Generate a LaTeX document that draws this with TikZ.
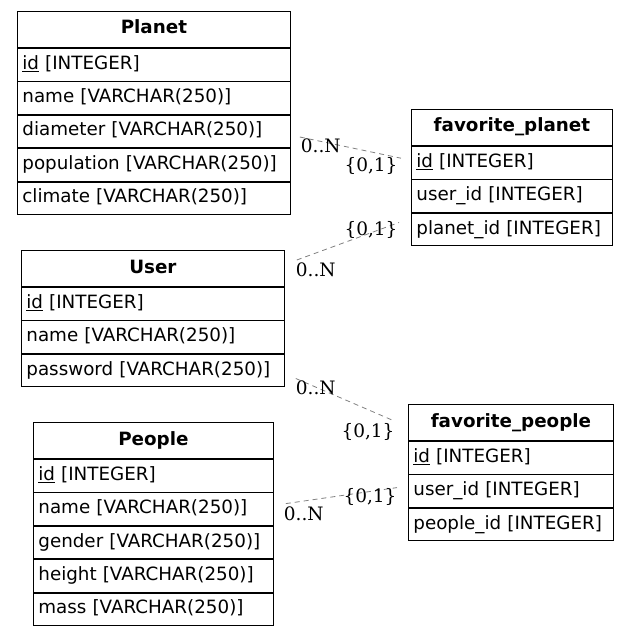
\documentclass[tikz,border=0pt]{standalone}
\usepackage{fontspec}
\usepackage{tikz}
\usetikzlibrary{positioning}
\newfontfamily\tabfont{DejaVu Sans}
\newfontfamily\cardfont{DejaVu Serif}

\begin{document}
\begin{tikzpicture}[x=1pt, y=-1pt,
  cell/.style={draw, line width=0.8pt, inner xsep=5pt, inner ysep=0pt,
    text height=13pt, text depth=4pt, font=\tabfont\fontsize{18.3}{21}\selectfont},
  head/.style={cell, minimum height=36.2pt, align=center,
    font=\tabfont\bfseries\fontsize{18.3}{21}\selectfont},
  field/.style={cell, minimum height=32.6pt, align=left},
  rel/.style={draw=gray, line width=0.8pt, dash pattern=on 5pt off 4pt},
  card/.style={font=\cardfont\fontsize{18.5}{20}\selectfont, inner sep=0pt}]
\useasboundingbox (0,0) rectangle (629,636);
% Planet
\node[head, anchor=north west, text width=263pt] (pl) at (17,11) {Planet};
\node[field, text width=263pt, below=0pt of pl] (pl-id) {\underline{id} [INTEGER]};
\node[field, text width=263pt, below=0pt of pl-id] (pl-name) {name [VARCHAR(250)]};
\node[field, text width=263pt, below=0pt of pl-name] (pl-diam) {diameter [VARCHAR(250)]};
\node[field, text width=263pt, below=0pt of pl-diam] (pl-pop) {population [VARCHAR(250)]};
\node[field, text width=263pt, below=0pt of pl-pop] (pl-clim) {climate [VARCHAR(250)]};
% favorite_planet
\node[head, anchor=north west, text width=191pt] (fp) at (411,109) {favorite\_planet};
\node[field, text width=191pt, below=0pt of fp] (fp-id) {\underline{id} [INTEGER]};
\node[field, text width=191pt, below=0pt of fp-id] (fp-user) {user\_id [INTEGER]};
\node[field, text width=191pt, below=0pt of fp-user] (fp-planet) {planet\_id [INTEGER]};
% User
\node[head, anchor=north west, text width=253pt] (us) at (21,250) {User};
\node[field, text width=253pt, below=0pt of us] (us-id) {\underline{id} [INTEGER]};
\node[field, text width=253pt, below=0pt of us-id] (us-name) {name [VARCHAR(250)]};
\node[field, text width=253pt, below=0pt of us-name] (us-pw) {password [VARCHAR(250)]};
% favorite_people
\node[head, anchor=north west, text width=195pt] (fq) at (408,404) {favorite\_people};
\node[field, text width=195pt, below=0pt of fq] (fq-id) {\underline{id} [INTEGER]};
\node[field, text width=195pt, below=0pt of fq-id] (fq-user) {user\_id [INTEGER]};
\node[field, text width=195pt, below=0pt of fq-user] (fq-people) {people\_id [INTEGER]};
% People
\node[head, anchor=north west, text width=230pt] (pe) at (33,422) {People};
\node[field, text width=230pt, below=0pt of pe] (pe-id) {\underline{id} [INTEGER]};
\node[field, text width=230pt, below=0pt of pe-id] (pe-name) {name [VARCHAR(250)]};
\node[field, text width=230pt, below=0pt of pe-name] (pe-gender) {gender [VARCHAR(250)]};
\node[field, text width=230pt, below=0pt of pe-gender] (pe-height) {height [VARCHAR(250)]};
\node[field, text width=230pt, below=0pt of pe-height] (pe-mass) {mass [VARCHAR(250)]};
% relations
\draw[rel] ([shift={(9,5.5)}]pl-diam.east) -- ([shift={(-10,-4.5)}]fp-id.west)
  node[card, at start, xshift=21pt, yshift=-9pt] {0..N}
  node[card, at end, xshift=-30pt, yshift=-8pt] {\{0,1\}};
\draw[rel] ([shift={(12,-8.5)}]us.east) -- ([shift={(-12,-7)}]fp-planet.west)
  node[card, at start, xshift=19pt, yshift=-10pt] {0..N}
  node[card, at end, xshift=-28pt, yshift=-7pt] {\{0,1\}};
\draw[rel] ([shift={(11,8)}]us-pw.east) -- ([shift={(-16,-2.5)}]fq.west)
  node[card, at start, xshift=20pt, yshift=-9pt] {0..N}
  node[card, at end, xshift=-24pt, yshift=-12pt] {\{0,1\}};
\draw[rel] ([shift={(12,-5.5)}]pe-name.east) -- ([shift={(-11,-3.5)}]fq-user.west)
  node[card, at start, xshift=18pt, yshift=-10pt] {0..N}
  node[card, at end, xshift=-27pt, yshift=-9pt] {\{0,1\}};
\end{tikzpicture}
\end{document}
